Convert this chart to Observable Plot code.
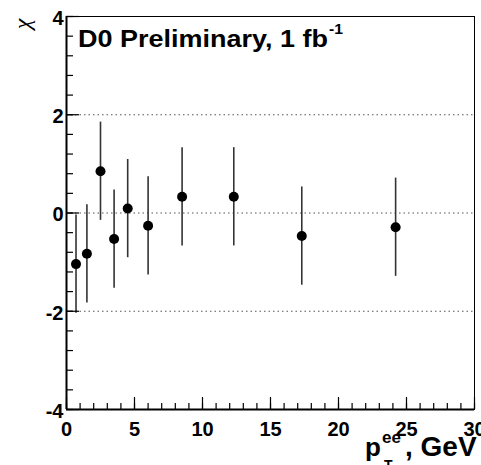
<!DOCTYPE html>
<html>
<head>
<meta charset="utf-8">
<script src="https://cdn.jsdelivr.net/npm/d3@7"></script>
<script src="https://cdn.jsdelivr.net/npm/@observablehq/plot@0.6"></script>
<style>
  html, body { margin: 0; padding: 0; background: #fff; }
  svg { overflow: visible; }
</style>
</head>
<body>
<div id="chart"></div>
<script>
// Data
const ptBins = [0.7, 1.5, 2.5, 3.5, 4.5, 6.0, 8.5, 12.3, 17.3, 24.2];
const chiValues = [-1.04, -0.83, 0.85, -0.53, 0.09, -0.26, 0.33, 0.33, -0.47, -0.29];
const chiErrors = [1, 1, 1, 1, 1, 1, 1, 1, 1, 1];
const xTickLabels = [0, 5, 10, 15, 20, 25, 30];
const yTickLabels = [-4, -2, 0, 2, 4];
const gridLevels = [-2, 0, 2];
const xDomain = [0, 30];
const yDomain = [-4, 4];

const W = 481, H = 465;
const mL = 66, mR = 7, mT = 16, mB = 56;
const innerW = W - mL - mR, innerH = H - mT - mB;

const data = ptBins.map((x, i) => ({x, y: chiValues[i], e: chiErrors[i]}));
const xMinor = d3.range(xDomain[0], xDomain[1] + 0.001, 1);
const yMinor = d3.range(yDomain[0], yDomain[1] + 0.001, 0.4).map(v => Math.round(v * 10) / 10);

const chart = Plot.plot({
  width: W, height: H,
  marginLeft: mL, marginRight: mR, marginTop: mT, marginBottom: mB,
  style: {fontFamily: "'Liberation Sans', Arial, sans-serif", fontWeight: "bold", background: "#fff", color: "#000"},
  x: {domain: xDomain},
  y: {domain: yDomain},
  marks: [
    Plot.ruleY(gridLevels, {y: d => d, stroke: "#555", strokeWidth: 1, strokeDasharray: "1.5,3"}),
    Plot.ruleX(data, {x: "x", y1: d => d.y - d.e, y2: d => d.y + d.e, stroke: "#333", strokeWidth: 1.6}),
    Plot.dot(data, {x: "x", y: "y", r: 5, fill: "#000", stroke: null}),
    // inward ticks
    Plot.tickY(yMinor, {y: d => d, insetRight: innerW - 7, stroke: "#000", strokeWidth: 1.2}),
    Plot.tickY(yTickLabels, {y: d => d, insetRight: innerW - 13, stroke: "#000", strokeWidth: 1.2}),
    Plot.tickX(xMinor, {x: d => d, insetTop: innerH - 6, stroke: "#000", strokeWidth: 1.2}),
    Plot.tickX(xTickLabels, {x: d => d, insetTop: innerH - 12, stroke: "#000", strokeWidth: 1.2}),
    Plot.frame({stroke: "#000", strokeWidth: 1}),
    Plot.ruleX([xDomain[0]], {stroke: "#000", strokeWidth: 2}),
    Plot.ruleY([yDomain[0]], {stroke: "#000", strokeWidth: 2}),
    Plot.axisY(yTickLabels, {tickSize: 0, tickPadding: 3, fontSize: 20, dy: 2, tickFormat: d => String(d), label: null}),
    Plot.axisX(xTickLabels, {tickSize: 0, tickPadding: 12, fontSize: 20, tickFormat: d => String(d), label: null})
  ]
});

document.getElementById("chart").appendChild(chart);

const svg = d3.select(chart);
const font = "'Liberation Sans', Arial, sans-serif";

// Title inside the frame
const title = svg.append("text")
  .attr("transform", "translate(78,47) scale(1.125,1)")
  .attr("text-anchor", "start")
  .attr("font-family", font).attr("font-weight", "bold").attr("font-size", 24).attr("fill", "#000");
title.append("tspan").text("D0 Preliminary, 1 fb");
title.append("tspan").attr("font-size", 14).attr("dy", -13).attr("dx", 1).text("-1");

// Y title (chi)
svg.append("text")
  .attr("transform", "translate(30,24) rotate(-90)")
  .attr("text-anchor", "middle")
  .attr("font-family", "'Liberation Serif', serif").attr("font-style", "italic").attr("font-weight", "normal")
  .attr("font-size", 24).attr("fill", "#000")
  .text("χ");

// X title: p_T^ee, GeV
const xt = svg.append("text")
  .attr("text-anchor", "start")
  .attr("font-family", font).attr("font-weight", "bold").attr("fill", "#000");
xt.append("tspan").attr("x", 365).attr("y", 456).attr("font-size", 26).text("p");
xt.append("tspan").attr("x", 382).attr("y", 443).attr("font-size", 17).text("ee");
xt.append("tspan").attr("x", 384).attr("y", 470).attr("font-size", 14).text("T");
xt.append("tspan").attr("x", 405).attr("y", 456).attr("font-size", 28).text(", GeV");
</script>
</body>
</html>
